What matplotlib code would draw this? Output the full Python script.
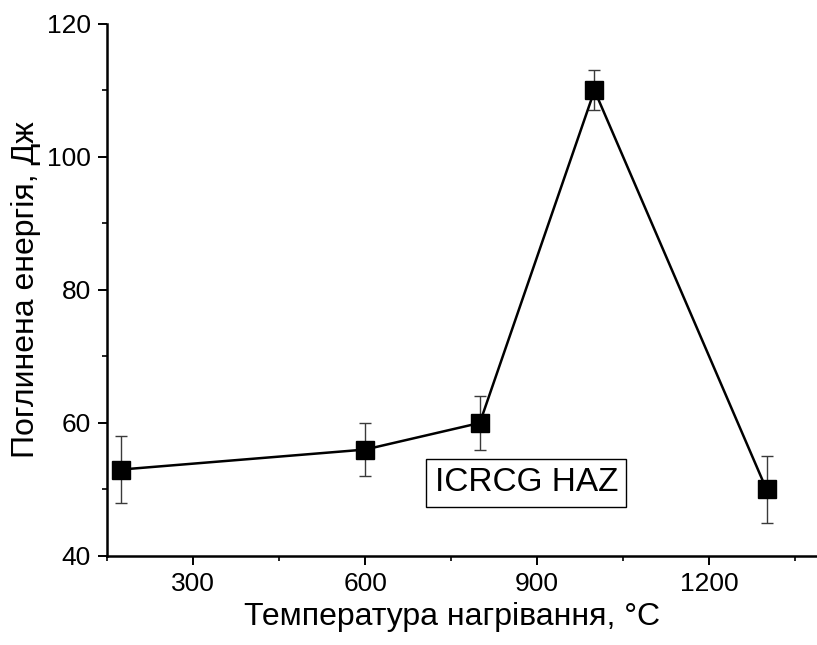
import matplotlib
matplotlib.use("Agg")
import matplotlib.pyplot as plt
from matplotlib.ticker import MultipleLocator

plt.rcParams['font.family'] = ['Liberation Sans', 'DejaVu Sans']

# Heating temperature (°C) vs. absorbed impact energy (J)
temperature = [175, 600, 800, 1000, 1300]
energy = [53, 56, 60, 110, 50]
err_low = [5, 4, 4, 3, 5]
err_high = [5, 4, 4, 3, 5]

x_label = "Температура нагрівання, °C"
y_label = "Поглинена енергія, Дж"
annotation = "ICRCG HAZ"

fig = plt.figure(figsize=(8.17, 6.45), dpi=100)
ax = fig.add_axes([0.131, 0.138, 0.869, 0.825])

ax.errorbar(temperature, energy, yerr=[err_low, err_high], fmt='none',
            ecolor='#3a3a3a', elinewidth=1.0, capsize=4, capthick=1.0, zorder=2)
ax.plot(temperature, energy, color='black', linewidth=1.8, marker='s',
        markersize=13.5, markerfacecolor='black', markeredgecolor='black', zorder=3)

ax.set_xlim(150, 1388)
ax.set_ylim(40, 120)
ax.xaxis.set_major_locator(MultipleLocator(300))
ax.xaxis.set_minor_locator(MultipleLocator(150))
ax.yaxis.set_major_locator(MultipleLocator(20))
ax.yaxis.set_minor_locator(MultipleLocator(10))

for side in ('top', 'right'):
    ax.spines[side].set_visible(False)
for side in ('left', 'bottom'):
    ax.spines[side].set_linewidth(1.8)

ax.tick_params(which='major', direction='out', length=6.5, width=1.4, labelsize=19, pad=5)
ax.tick_params(which='minor', direction='out', length=3.5, width=1.2)

ax.set_xlabel(x_label, fontsize=23, labelpad=4)
ax.xaxis.label.set_x(0.486)
ax.set_ylabel(y_label, fontsize=23, labelpad=4)

ax.text(881, 51, annotation, fontsize=24, ha='center', va='center',
        bbox=dict(boxstyle='square,pad=0.25', facecolor='white', edgecolor='black', linewidth=1.0))

fig.savefig("out.png", dpi=100)
